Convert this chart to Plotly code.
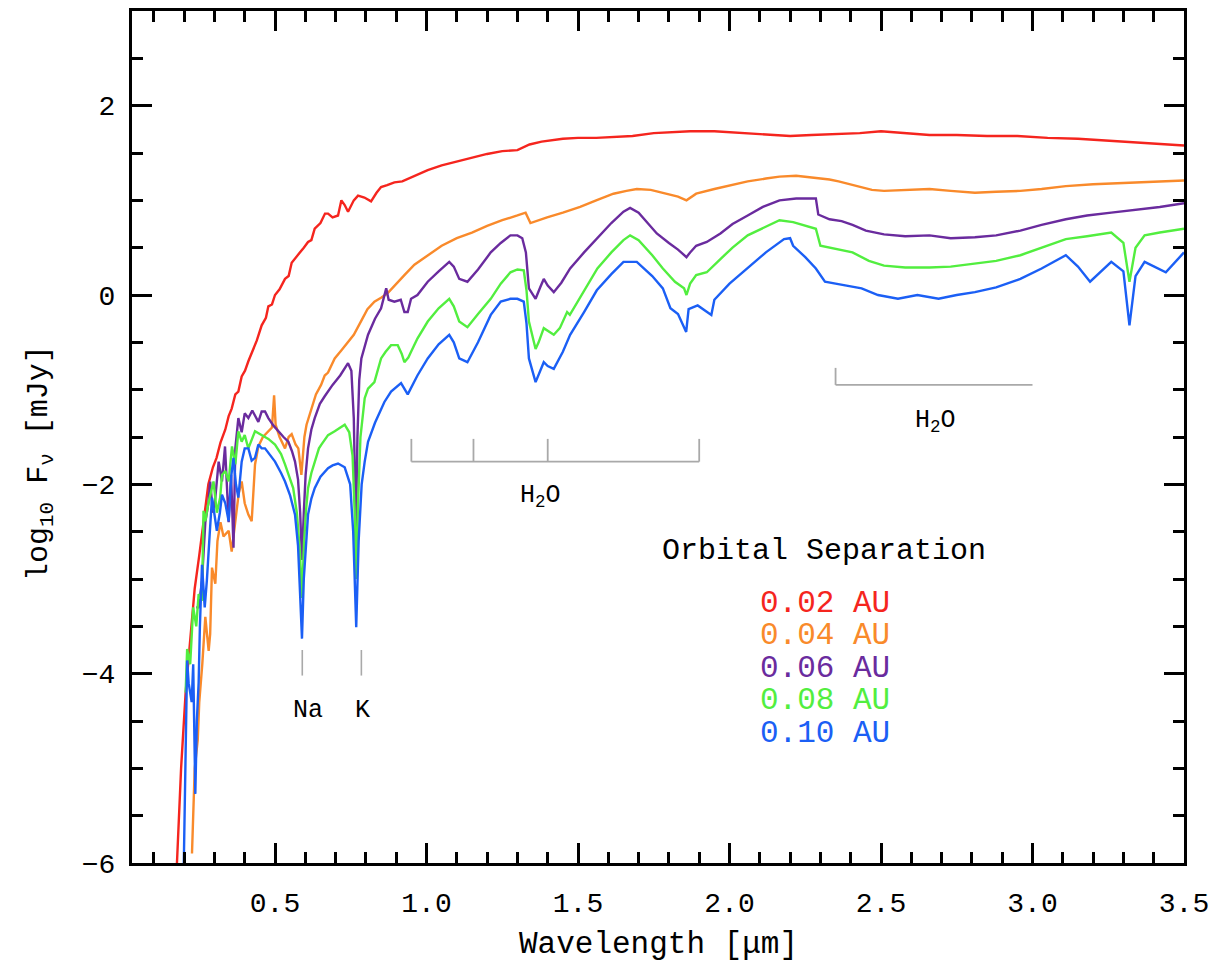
import plotly.graph_objects as go

# ---------------- data ----------------
series_labels = ["0.02 AU", "0.04 AU", "0.06 AU", "0.08 AU", "0.10 AU"]
series_colors = ["#f5251e", "#f98a2b", "#6a2b9e", "#52ee3f", "#1b5ff5"]

wl_002 = [0.175, 0.19, 0.205, 0.22, 0.235, 0.25, 0.265, 0.28, 0.295, 0.307, 0.32, 0.336, 0.347, 0.357,
          0.369, 0.379, 0.39, 0.401, 0.412, 0.429, 0.44, 0.456, 0.47, 0.478, 0.49, 0.5, 0.515, 0.533,
          0.545, 0.555, 0.566, 0.58, 0.595, 0.609, 0.62, 0.631, 0.65, 0.665, 0.675, 0.69, 0.708, 0.719,
          0.73, 0.741, 0.76, 0.774, 0.795, 0.817, 0.835, 0.85, 0.87, 0.894, 0.92, 0.949, 0.975, 1.004,
          1.05, 1.1, 1.15, 1.2, 1.25, 1.3, 1.34, 1.38, 1.45, 1.5, 1.56, 1.62, 1.68, 1.75, 1.8, 1.87,
          1.95, 2.0, 2.06, 2.12, 2.2, 2.27, 2.36, 2.43, 2.5, 2.58, 2.66, 2.75, 2.85, 2.95, 3.05, 3.15,
          3.25, 3.34, 3.42, 3.5]
flux_002 = [-6.1, -5.0, -4.2, -3.6, -3.1, -2.75, -2.35, -2.0, -1.82, -1.72, -1.56, -1.42, -1.28, -1.2,
            -1.05, -1.02, -0.86, -0.8, -0.7, -0.56, -0.48, -0.32, -0.24, -0.12, -0.1, 0.0, 0.06, 0.17,
            0.2, 0.34, 0.38, 0.44, 0.5, 0.56, 0.58, 0.7, 0.76, 0.86, 0.86, 0.82, 0.84, 1.0,
            0.95, 0.88, 1.0, 1.05, 1.03, 0.99, 1.08, 1.14, 1.16, 1.19, 1.2, 1.24, 1.28, 1.32,
            1.37, 1.41, 1.45, 1.49, 1.52, 1.53, 1.59, 1.62, 1.65, 1.66, 1.66, 1.67, 1.68, 1.71, 1.72, 1.73,
            1.73, 1.72, 1.71, 1.7, 1.68, 1.69, 1.7, 1.71, 1.73, 1.71, 1.69, 1.69, 1.68, 1.68, 1.66, 1.65,
            1.63, 1.61, 1.6, 1.58]

wl_004 = [0.226, 0.23, 0.235, 0.245, 0.25, 0.26, 0.27, 0.281, 0.286, 0.292, 0.303, 0.31, 0.32, 0.33,
          0.347, 0.357, 0.369, 0.38, 0.39, 0.4, 0.412, 0.423, 0.434, 0.445, 0.46, 0.478, 0.49, 0.497,
          0.502, 0.515, 0.533, 0.545, 0.555, 0.568, 0.577, 0.587, 0.597, 0.604, 0.62, 0.635, 0.652,
          0.664, 0.675, 0.697, 0.72, 0.741, 0.76, 0.785, 0.805, 0.828, 0.85, 0.872, 0.9, 0.927, 0.96,
          1.004, 1.05, 1.1, 1.15, 1.2, 1.25, 1.3, 1.327, 1.343, 1.37, 1.398, 1.45, 1.507, 1.56, 1.617,
          1.66, 1.694, 1.74, 1.781, 1.83, 1.858, 1.89, 1.95, 2.0, 2.06, 2.12, 2.165, 2.22, 2.285, 2.33,
          2.36, 2.42, 2.47, 2.51, 2.58, 2.66, 2.73, 2.81, 2.88, 2.96, 3.03, 3.11, 3.2, 3.28, 3.34, 3.42, 3.5]
flux_004 = [-5.9, -5.4, -5.0, -4.7, -4.3, -3.9, -3.4, -3.76, -3.58, -2.88, -3.05, -2.6, -2.4, -2.55,
            -2.49, -2.71, -2.39, -2.1, -1.97, -2.2, -2.32, -2.39, -1.79, -1.6, -1.5, -1.44, -1.4, -1.06,
            -1.37, -1.5, -1.62, -1.5, -1.47, -1.58, -1.62, -1.9, -1.5, -1.37, -1.2, -1.05, -0.95,
            -0.85, -0.82, -0.67, -0.58, -0.5, -0.42, -0.27, -0.15, -0.07, -0.03, 0.02, 0.12, 0.21, 0.32,
            0.42, 0.52, 0.6, 0.66, 0.73, 0.79, 0.84, 0.87, 0.76, 0.79, 0.82, 0.87, 0.93, 1.0, 1.07,
            1.1, 1.12, 1.11, 1.08, 1.04, 1.0, 1.07, 1.12, 1.16, 1.2, 1.23, 1.25, 1.26, 1.24, 1.22,
            1.2, 1.15, 1.11, 1.1, 1.11, 1.12, 1.1, 1.08, 1.09, 1.1, 1.12, 1.15, 1.17, 1.18, 1.19, 1.2, 1.21]

wl_006 = [0.24, 0.248, 0.259, 0.27, 0.28, 0.286, 0.295, 0.303, 0.314, 0.325, 0.335, 0.347, 0.355, 0.363,
          0.369, 0.379, 0.39, 0.4, 0.412, 0.425, 0.445, 0.456, 0.467, 0.478, 0.495, 0.511, 0.528, 0.544,
          0.556, 0.566, 0.576, 0.583, 0.589, 0.595, 0.601, 0.609, 0.62, 0.631, 0.648, 0.664, 0.69, 0.715,
          0.741, 0.752, 0.76, 0.767, 0.772, 0.778, 0.785, 0.807, 0.83, 0.85, 0.86, 0.867, 0.875, 0.894,
          0.915, 0.927, 0.938, 0.949, 0.97, 1.004, 1.04, 1.075, 1.09, 1.108, 1.135, 1.17, 1.212, 1.245,
          1.277, 1.3, 1.316, 1.328, 1.338, 1.36, 1.375, 1.387, 1.4, 1.42, 1.445, 1.474, 1.52, 1.562,
          1.61, 1.65, 1.672, 1.7, 1.726, 1.76, 1.8, 1.83, 1.858, 1.87, 1.89, 1.925, 1.97, 2.01, 2.06,
          2.11, 2.165, 2.22, 2.285, 2.293, 2.33, 2.37, 2.406, 2.45, 2.51, 2.58, 2.66, 2.73, 2.81, 2.88,
          2.96, 3.03, 3.11, 3.18, 3.26, 3.34, 3.42, 3.5]
flux_006 = [-3.3, -3.3, -3.02, -2.4, -2.2, -1.97, -2.3, -2.14, -1.76, -1.97, -1.6, -2.4, -1.9, -2.67,
            -1.62, -1.3, -1.45, -1.25, -1.3, -1.22, -1.34, -1.23, -1.23, -1.3, -1.38, -1.44, -1.5, -1.55,
            -1.65, -1.76, -1.95, -2.3, -2.8, -2.3, -1.9, -1.62, -1.42, -1.3, -1.15, -1.07, -0.95, -0.85,
            -0.72, -0.8, -1.3, -2.5, -1.5, -0.9, -0.67, -0.42, -0.25, -0.14, -0.02, 0.07, -0.05, -0.07,
            -0.05, -0.18, -0.18, -0.04, 0.0, 0.14, 0.25, 0.35, 0.3, 0.17, 0.14, 0.27, 0.45, 0.55,
            0.63, 0.63, 0.6, 0.45, 0.07, -0.04, 0.08, 0.17, 0.1, 0.03, 0.13, 0.28, 0.45, 0.59,
            0.76, 0.88, 0.92, 0.87, 0.77, 0.65, 0.55, 0.48, 0.4, 0.45, 0.52, 0.56, 0.65, 0.75, 0.84,
            0.93, 1.0, 1.02, 1.02, 0.85, 0.8, 0.78, 0.74, 0.68, 0.64, 0.62, 0.63, 0.6, 0.61, 0.63,
            0.68, 0.74, 0.8, 0.84, 0.87, 0.9, 0.93, 0.97]

wl_008 = [0.205, 0.21, 0.22, 0.23, 0.24, 0.248, 0.259, 0.264, 0.27, 0.28, 0.297, 0.308, 0.319, 0.325,
          0.336, 0.347, 0.358, 0.369, 0.379, 0.39, 0.4, 0.412, 0.434, 0.456, 0.478, 0.5, 0.52, 0.533,
          0.548, 0.56, 0.572, 0.582, 0.589, 0.596, 0.603, 0.609, 0.62, 0.631, 0.645, 0.653, 0.675, 0.697,
          0.715, 0.73, 0.745, 0.756, 0.763, 0.768, 0.774, 0.782, 0.796, 0.807, 0.828, 0.85, 0.865, 0.883,
          0.905, 0.918, 0.927, 0.94, 0.949, 0.97, 1.004, 1.04, 1.075, 1.09, 1.108, 1.135, 1.17, 1.212,
          1.245, 1.277, 1.3, 1.321, 1.33, 1.338, 1.36, 1.37, 1.387, 1.4, 1.42, 1.44, 1.464, 1.473, 1.52,
          1.564, 1.61, 1.65, 1.672, 1.7, 1.745, 1.78, 1.82, 1.85, 1.858, 1.87, 1.89, 1.925, 1.97, 2.01,
          2.06, 2.12, 2.165, 2.21, 2.285, 2.3, 2.35, 2.406, 2.46, 2.51, 2.58, 2.66, 2.73, 2.81, 2.88,
          2.96, 3.03, 3.11, 3.18, 3.26, 3.3, 3.32, 3.34, 3.37, 3.42, 3.5]
flux_008 = [-4.2, -3.74, -3.9, -3.3, -3.5, -3.16, -3.23, -2.28, -2.39, -2.2, -1.97, -2.3, -2.14, -1.9,
            -1.86, -1.97, -1.6, -1.79, -1.44, -1.55, -1.48, -1.62, -1.44, -1.48, -1.52, -1.58, -1.68, -1.79,
            -1.92, -2.04, -2.3, -2.7, -3.2, -2.6, -2.25, -2.04, -1.88, -1.76, -1.62, -1.58, -1.48, -1.44,
            -1.4, -1.37, -1.45, -1.7, -2.3, -3.0, -2.2, -1.5, -1.09, -0.99, -0.92, -0.67, -0.6, -0.53,
            -0.53, -0.62, -0.71, -0.66, -0.6, -0.46, -0.28, -0.14, -0.04, -0.12, -0.28, -0.34, -0.2, -0.04,
            0.12, 0.24, 0.27, 0.26, 0.05, -0.28, -0.57, -0.5, -0.35, -0.38, -0.42, -0.35, -0.18, -0.21, 0.05,
            0.28, 0.45, 0.58, 0.63, 0.58, 0.42, 0.28, 0.14, 0.07, 0.0, 0.12, 0.21, 0.24, 0.38, 0.5,
            0.63, 0.72, 0.79, 0.77, 0.7, 0.52, 0.49, 0.45, 0.36, 0.31, 0.29, 0.29, 0.3, 0.33, 0.36,
            0.42, 0.5, 0.59, 0.62, 0.66, 0.55, 0.14, 0.5, 0.63, 0.66, 0.7]

wl_010 = [0.199, 0.205, 0.21, 0.215, 0.225, 0.23, 0.237, 0.242, 0.248, 0.252, 0.259, 0.268, 0.275, 0.283,
          0.292, 0.308, 0.318, 0.325, 0.336, 0.347, 0.356, 0.363, 0.371, 0.379, 0.39, 0.4, 0.412, 0.423,
          0.434, 0.445, 0.456, 0.467, 0.5, 0.52, 0.533, 0.55, 0.566, 0.576, 0.583, 0.589, 0.595, 0.602,
          0.609, 0.62, 0.631, 0.65, 0.675, 0.69, 0.708, 0.73, 0.748, 0.758, 0.768, 0.776, 0.786, 0.796,
          0.807, 0.83, 0.85, 0.861, 0.883, 0.9, 0.916, 0.938, 0.96, 0.97, 1.004, 1.04, 1.075, 1.09,
          1.108, 1.135, 1.17, 1.212, 1.245, 1.277, 1.3, 1.321, 1.33, 1.338, 1.36, 1.375, 1.387, 1.4,
          1.42, 1.45, 1.474, 1.52, 1.562, 1.61, 1.65, 1.694, 1.745, 1.78, 1.805, 1.83, 1.857, 1.865,
          1.895, 1.94, 1.95, 2.0, 2.06, 2.12, 2.18, 2.2, 2.21, 2.25, 2.285, 2.315, 2.35, 2.436, 2.49,
          2.556, 2.62, 2.69, 2.75, 2.81, 2.88, 2.96, 3.03, 3.11, 3.15, 3.19, 3.26, 3.3, 3.32, 3.34,
          3.37, 3.44, 3.5]
flux_010 = [-6.0, -5.0, -3.86, -4.1, -4.3, -3.9, -5.27, -4.5, -4.09, -3.51, -2.85, -3.3, -3.02, -2.6,
            -2.14, -2.49, -2.3, -2.11, -2.2, -2.39, -1.9, -1.72, -2.0, -2.14, -1.76, -1.62, -1.62, -1.75,
            -1.72, -1.58, -1.62, -1.62, -1.76, -1.88, -1.97, -2.12, -2.32, -2.65, -3.1, -3.63, -3.0, -2.6,
            -2.32, -2.15, -2.04, -1.92, -1.83, -1.8, -1.78, -1.82, -2.0, -2.5, -3.51, -2.6, -2.0, -1.76,
            -1.55, -1.35, -1.2, -1.13, -1.02, -0.97, -0.93, -1.05, -0.92, -0.85, -0.67, -0.52, -0.42, -0.5,
            -0.67, -0.71, -0.5, -0.21, -0.07, -0.04, -0.04, -0.07, -0.3, -0.67, -0.92, -0.8, -0.71, -0.75,
            -0.78, -0.6, -0.42, -0.18, 0.05, 0.22, 0.35, 0.35, 0.2, 0.07, -0.14, -0.2, -0.39, -0.15,
            -0.11, -0.21, -0.05, 0.12, 0.28, 0.45, 0.59, 0.6, 0.52, 0.4, 0.28, 0.14, 0.12, 0.07, 0.0,
            -0.04, 0.0, -0.04, 0.0, 0.03, 0.08, 0.17, 0.28, 0.42, 0.3, 0.14, 0.35, 0.25, -0.32, 0.2,
            0.35, 0.24, 0.45]

wavelengths = [wl_002, wl_004, wl_006, wl_008, wl_010]
fluxes = [flux_002, flux_004, flux_006, flux_008, flux_010]

x_tick_vals = [0.5, 1.0, 1.5, 2.0, 2.5, 3.0, 3.5]
x_tick_text = ["0.5", "1.0", "1.5", "2.0", "2.5", "3.0", "3.5"]
y_tick_vals = [-6, -4, -2, 0, 2]
y_tick_text = ["\u22126", "\u22124", "\u22122", "0", "2"]

# ---------------- figure ----------------
FONT = "Liberation Mono"
fig = go.Figure()
for wl, fl, name, col in zip(wavelengths, fluxes, series_labels, series_colors):
    fig.add_trace(go.Scatter(x=wl, y=fl, mode="lines", name=name,
                             line=dict(color=col, width=2.4), showlegend=False))

grey = "#a9a9a9"
shapes = []
# Na / K markers
for xv in [0.59, 0.785]:
    shapes.append(dict(type="line", xref="x", yref="y", x0=xv, x1=xv, y0=-3.75, y1=-4.02,
                       line=dict(color=grey, width=1.6)))
# H2O bracket 1
shapes.append(dict(type="line", xref="x", yref="y", x0=0.95, x1=1.9, y0=-1.76, y1=-1.76,
                   line=dict(color=grey, width=1.8)))
for xv in [0.95, 1.155, 1.4, 1.9]:
    shapes.append(dict(type="line", xref="x", yref="y", x0=xv, x1=xv, y0=-1.76, y1=-1.52,
                       line=dict(color=grey, width=1.8)))
# H2O bracket 2
shapes.append(dict(type="line", xref="x", yref="y", x0=2.35, x1=3.0, y0=-0.95, y1=-0.95,
                   line=dict(color=grey, width=1.8)))
shapes.append(dict(type="line", xref="x", yref="y", x0=2.35, x1=2.35, y0=-0.95, y1=-0.77,
                   line=dict(color=grey, width=1.8)))

annotations = [
    dict(x=0.61, y=-4.39, text="Na", showarrow=False, font=dict(family=FONT, size=25, color="black")),
    dict(x=0.79, y=-4.39, text="K", showarrow=False, font=dict(family=FONT, size=25, color="black")),
    dict(x=1.375, y=-2.13, text="H<sub>2</sub>O", showarrow=False, font=dict(family=FONT, size=25, color="black")),
    dict(x=2.68, y=-1.34, text="H<sub>2</sub>O", showarrow=False, font=dict(family=FONT, size=25, color="black")),
    dict(x=2.311, y=-2.705, text="Orbital Separation", showarrow=False,
         font=dict(family=FONT, size=30, color="black")),
]
legend_y = [-3.263, -3.6, -3.947, -4.284, -4.63]
for lab, col, yv in zip(series_labels, series_colors, legend_y):
    annotations.append(dict(x=2.314, y=yv, text=lab, showarrow=False,
                            font=dict(family=FONT, size=31, color=col)))
# axis titles
annotations.append(dict(xref="paper", yref="paper", x=0.5, y=-0.096, xanchor="center", yanchor="middle",
                        text="Wavelength [\u03bcm]",
                        showarrow=False, font=dict(family=FONT, size=31, color="black")))
annotations.append(dict(xref="paper", yref="paper", x=-0.087, y=0.47, xanchor="center", yanchor="middle",
                        text="log<sub>10</sub> F<sub>\u03bd</sub> [mJy]", textangle=-90,
                        showarrow=False, font=dict(family=FONT, size=30, color="black")))

axis_common = dict(showline=True, linecolor="black", linewidth=3, mirror="allticks",
                   ticks="inside", tickcolor="black", tickwidth=3, ticklen=20,
                   showgrid=False, zeroline=False,
                   tickfont=dict(family=FONT, size=28, color="black"))

fig.update_layout(
    width=1217, height=970,
    margin=dict(l=132, r=29, t=8, b=107),
    paper_bgcolor="white", plot_bgcolor="white",
    shapes=shapes, annotations=annotations,
    xaxis=dict(range=[0.028, 3.5], tickvals=x_tick_vals, ticktext=x_tick_text,
               minor=dict(dtick=0.1, tick0=0, ticks="inside", ticklen=11, tickwidth=2.5, tickcolor="black"),
               ticklabelstandoff=12, **axis_common),
    yaxis=dict(range=[-6, 3], tickvals=y_tick_vals, ticktext=y_tick_text,
               minor=dict(dtick=0.5, tick0=0, ticks="inside", ticklen=11, tickwidth=2.5, tickcolor="black"),
               ticklabelstandoff=8, **axis_common),
)

fig.write_html("out.html")
